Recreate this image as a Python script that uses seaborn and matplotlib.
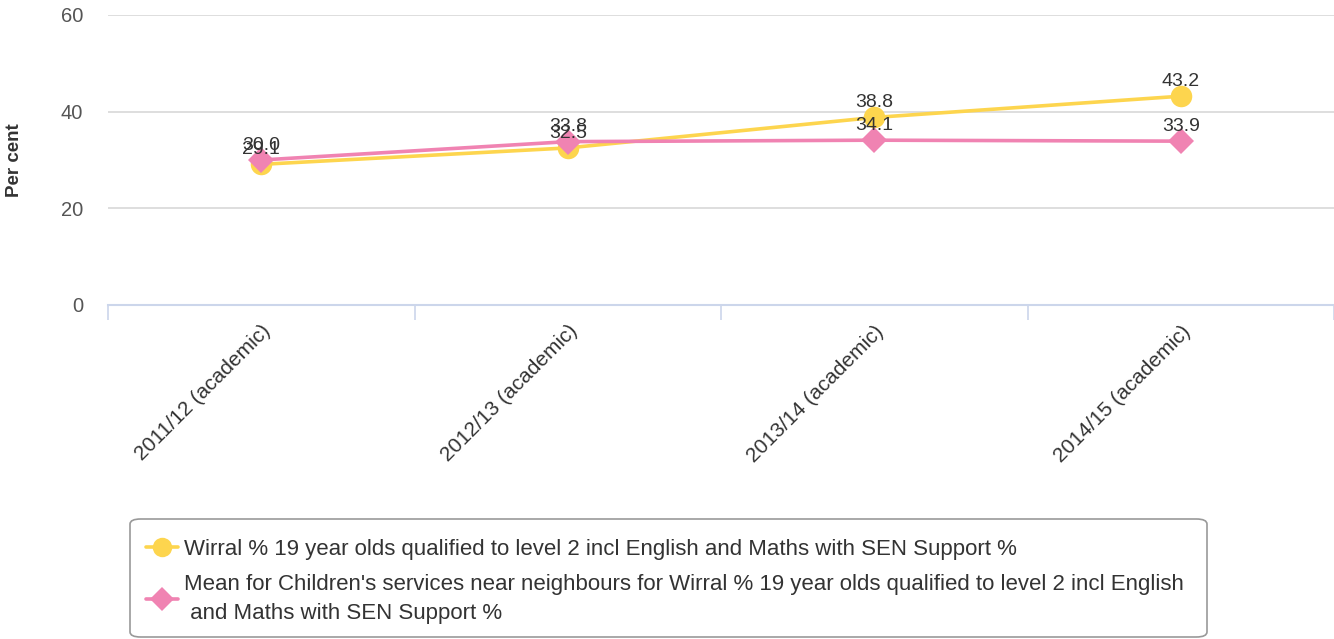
import matplotlib
matplotlib.use("Agg")
import matplotlib.pyplot as plt
from matplotlib.lines import Line2D
from matplotlib.patches import FancyBboxPatch
import seaborn as sns
import pandas as pd

categories = ["2011/12 (academic)", "2012/13 (academic)", "2013/14 (academic)", "2014/15 (academic)"]
wirral = [29.1, 32.5, 38.8, 43.2]
neighbours = [30.0, 33.8, 34.1, 33.9]
series_names = [
    "Wirral % 19 year olds qualified to level 2 incl English and Maths with SEN Support %",
    "Mean for Children's services near neighbours for Wirral % 19 year olds qualified to level 2 incl English\n and Maths with SEN Support %",
]
y_ticks = [0, 20, 40, 60]
y_label = "Per cent"

colors = ["#FDD54E", "#F083B2"]
markers = ["o", "D"]

sns.set_theme(style="white")
plt.rcParams['font.family'] = ['Liberation Sans', 'DejaVu Sans']

df = pd.DataFrame({
    "cat": categories * 2,
    "value": wirral + neighbours,
    "series": [series_names[0]] * 4 + [series_names[1]] * 4,
})

fig = plt.figure(figsize=(13.34, 6.39), dpi=100)
ax = fig.add_axes([108 / 1334, 1 - 305 / 639, 1 - 108 / 1334, (305 - 15) / 639])

sns.lineplot(data=df, x="cat", y="value", hue="series", style="series",
             palette=colors, markers=markers, dashes=False, linewidth=2.6,
             markersize=14, markeredgewidth=0, ax=ax, legend=False, sort=False)
for line, ms in zip(ax.lines, [15.5, 13.5]):
    line.set_markersize(ms)

ax.set_xlim(-0.5, 3.5)
ax.set_ylim(0, 60)
ax.set_yticks(y_ticks)
ax.set_yticklabels([str(t) for t in y_ticks], fontsize=14.5, color="#555555")
ax.tick_params(axis="y", length=0, pad=18)
ax.grid(axis="y", color="#d8d8d8", linewidth=1.2)
ax.set_axisbelow(True)
for s in ["top", "right", "left"]:
    ax.spines[s].set_visible(False)
ax.spines["bottom"].set_color("#ccd6eb")
ax.spines["bottom"].set_linewidth(1.5)

ax.set_xticks(range(len(categories)))
ax.set_xticklabels(categories, rotation=45, ha="right", rotation_mode="anchor",
                   fontsize=15, color="#333333")
ax.tick_params(axis="x", which="major", bottom=True, length=0, pad=12)
ax.set_xticks([i - 0.5 for i in range(len(categories) + 1)], minor=True)
ax.tick_params(axis="x", which="minor", bottom=True, length=11, width=1.2, color="#ccd6eb")
ax.set_xlabel("")
ax.set_ylabel(y_label, fontsize=13.5, fontweight="bold", color="#333333")
ax.yaxis.set_label_coords(-(108 - 23) / (1334 - 108), (305 - 160) / 290)

for vals in [wirral, neighbours]:
    for i, v in enumerate(vals):
        ax.annotate(f"{v:.1f}", (i, v), xytext=(0, 4.5), textcoords="offset points",
                    ha="center", va="bottom", fontsize=14, color="#333333")

# Legend
box = FancyBboxPatch((130 / 1334, 1 - 637 / 639), (1207 - 130) / 1334, (637 - 519) / 639,
                     boxstyle="round,pad=0,rounding_size=0.008", transform=fig.transFigure,
                     facecolor="white", edgecolor="#999999", linewidth=1.2)
fig.patches.append(box)
handles = [Line2D([], [], color=c, marker=m, linewidth=2.6,
                  markersize=ms, markeredgewidth=0)
           for c, m, ms in zip(colors, markers, [14, 12])]
leg = fig.legend(handles, series_names, loc="upper left",
                 bbox_to_anchor=(146 / 1334, 1 - 539 / 639), frameon=False,
                 fontsize=16, handlelength=1.45, handletextpad=0.25,
                 labelspacing=0.65, borderpad=0, borderaxespad=0, labelcolor="#333333")
for t in leg.get_texts():
    t.set_linespacing(1.45)

fig.savefig("out.png", dpi=100)
